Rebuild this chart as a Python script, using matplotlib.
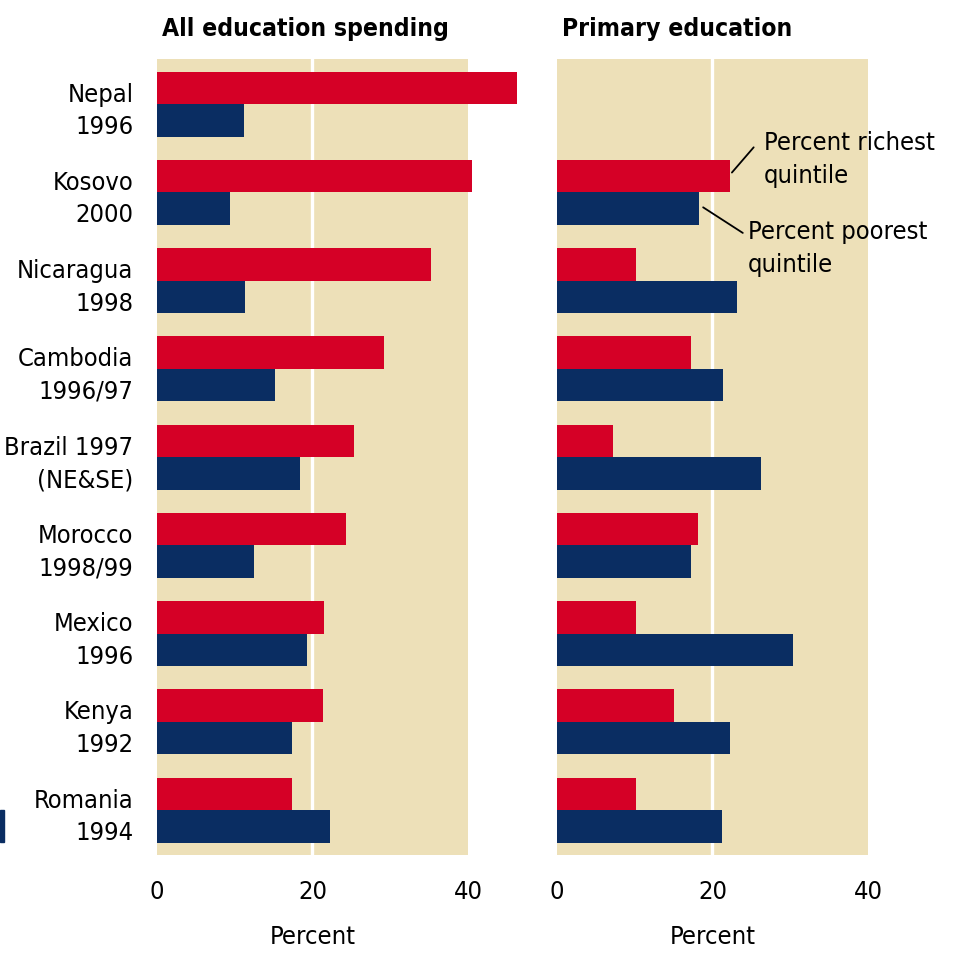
import numpy as np
import matplotlib.pyplot as plt
from matplotlib import font_manager as fm
from matplotlib.patches import Rectangle


# pick a narrow/condensed sans if one is installed
def narrow_font(weights):
    for pref in ['Liberation Sans Narrow', 'Noto Sans', 'DejaVu Sans', 'Roboto', 'Open Sans']:
        for f in fm.fontManager.ttflist:
            fn = f.fname.lower()
            if f.name.startswith(pref) and ('narrow' in fn or 'condensed' in fn) \
                    and 'semi' not in fn and 'extra' not in fn and 'ultra' not in fn \
                    and 'italic' not in fn and 'oblique' not in fn and f.weight in weights:
                return f
    return None


reg = narrow_font((400, 'normal', 'regular'))
bold = narrow_font((700, 'bold'))

if reg:
    plt.rcParams['font.family'] = [reg.name, 'DejaVu Sans']
    plt.rcParams['font.stretch'] = reg.stretch
else:
    plt.rcParams['font.family'] = ['DejaVu Sans']
title_kw = {'fontproperties': fm.FontProperties(fname=bold.fname)} if bold else {'fontweight': 'bold'}

# Data
countries = ['Nepal\n1996', 'Kosovo\n2000', 'Nicaragua\n1998', 'Cambodia\n1996/97',
             'Brazil 1997\n(NE&SE)', 'Morocco\n1998/99', 'Mexico\n1996', 'Kenya\n1992',
             'Romania\n1994']
all_richest = [46.3, 40.5, 35.3, 29.2, 25.3, 24.3, 21.5, 21.3, 17.4]
all_poorest = [11.2, 9.4, 11.3, 15.2, 18.4, 12.5, 19.3, 17.4, 22.2]
prim_richest = [np.nan, 22.2, 10.1, 17.2, 7.2, 18.2, 10.1, 15.1, 10.1]
prim_poorest = [np.nan, 18.3, 23.2, 21.3, 26.2, 17.2, 30.3, 22.2, 21.2]
xticks = [0, 20, 40]

red = '#D50026'
blue = '#0A2D62'
tan = '#EDE0B8'

fig = plt.figure(figsize=(9.58, 9.59), dpi=100)
renderer = fig.canvas.get_renderer()


def size_for(s, target_px, **kw):
    t = fig.text(0, 0, s, fontsize=10, **kw)
    w = t.get_window_extent(renderer).width
    t.remove()
    return 10 * target_px / w


fs = min(size_for('Brazil 1997', 129), 23)
fs_title = min(size_for('All education spending', 285, **title_kw), 24)
ls = 34 / (fs * 100 / 72 * 0.92)

ax1 = fig.add_axes([0.1639, 0.1084, 0.3246, 0.830])
ax2 = fig.add_axes([0.5814, 0.1084, 0.3246, 0.830])

y = np.arange(len(countries))
h = 0.368

for ax, rich, poor, title in [(ax1, all_richest, all_poorest, 'All education spending'),
                              (ax2, prim_richest, prim_poorest, 'Primary education')]:
    ax.set_facecolor(tan)
    ax.axvline(20, color='white', lw=2.4, zorder=1)
    ax.barh(y - h / 2, rich, height=h, color=red, zorder=2, clip_on=False)
    ax.barh(y + h / 2, poor, height=h, color=blue, zorder=2, clip_on=False)
    ax.set_xlim(0, 40)
    ax.set_ylim(8.51, -0.51)
    for s in ax.spines.values():
        s.set_visible(False)
    ax.set_xticks(xticks)
    ax.set_xticklabels([str(t) for t in xticks], fontsize=fs)
    ax.tick_params(axis='x', length=0, pad=18)
    ax.set_xlabel('Percent', fontsize=fs, labelpad=15)
    t = ax.text(0.015, 1.029, title, transform=ax.transAxes, ha='left', va='baseline', **title_kw)
    t.set_fontsize(fs_title)

ax1.set_yticks(y)
ax1.set_yticklabels(countries, fontsize=fs, linespacing=ls)
ax1.tick_params(axis='y', length=0, pad=17)
ax2.set_yticks([])

# callouts
line_kw = dict(arrowstyle='-', color='black', lw=1.3, shrinkA=0, shrinkB=0)
ax2.annotate('', xy=(22.5, 0.776), xytext=(25.3, 0.49), arrowprops=line_kw,
             annotation_clip=False)
ax2.text(26.6, 0.63, 'Percent richest\nquintile', fontsize=fs, ha='left', va='center',
         linespacing=ls, clip_on=False)
ax2.annotate('', xy=(18.8, 1.17), xytext=(23.9, 1.46), arrowprops=line_kw,
             annotation_clip=False)
ax2.text(24.6, 1.64, 'Percent poorest\nquintile', fontsize=fs, ha='left', va='center',
         linespacing=ls, clip_on=False)

# small blue mark at the left edge
fig.patches.append(Rectangle((0, 1 - 842 / 959), 4 / 958, 32 / 959,
                             transform=fig.transFigure, color=blue))

fig.savefig('out.png', dpi=100)
